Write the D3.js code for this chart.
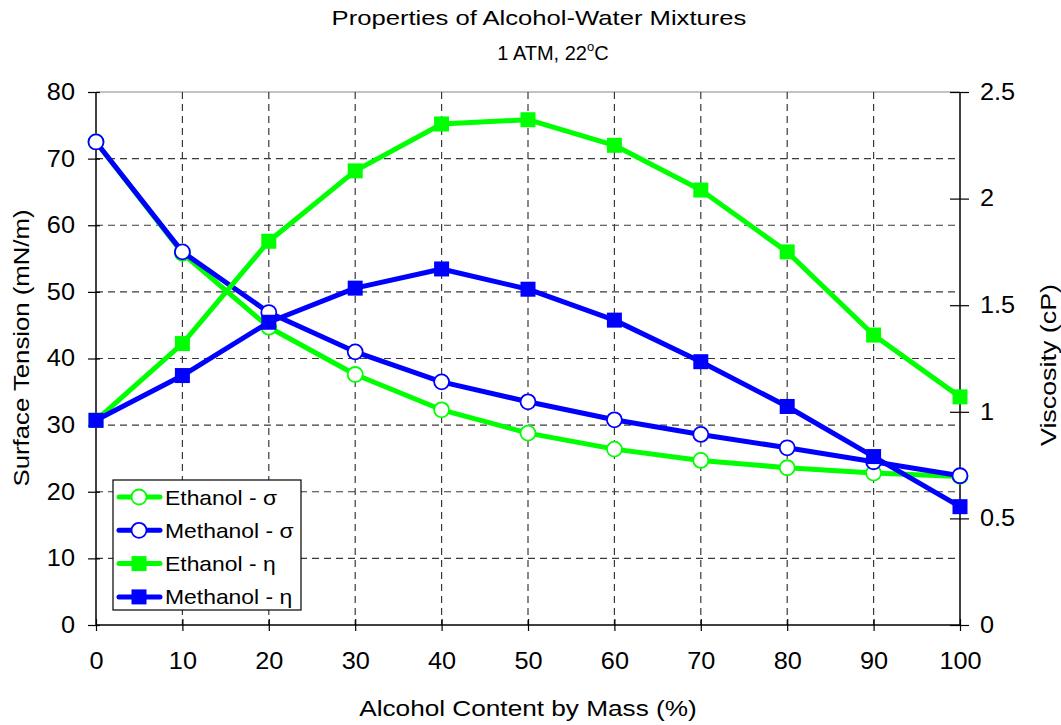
<!DOCTYPE html>
<html>
<head>
<meta charset="utf-8">
<script src="https://cdn.jsdelivr.net/npm/d3@7/dist/d3.min.js"></script>
<style>
  html, body { margin: 0; padding: 0; background: #fff; }
  svg { display: block; font-family: "Liberation Sans", Arial, sans-serif; }
</style>
</head>
<body>
<svg id="chart" width="1061" height="725"></svg>
<script>
// Alcohol content by mass (%)
const alcoholContent = [0, 10, 20, 30, 40, 50, 60, 70, 80, 90, 100];

// Surface tension (mN/m)
const ethanolSigma  = [72.5, 55.8, 44.7, 37.6, 32.3, 28.8, 26.4, 24.7, 23.6, 22.8, 22.3];
const methanolSigma = [72.5, 56.0, 46.9, 41.0, 36.5, 33.5, 30.8, 28.6, 26.6, 24.5, 22.4];

// Viscosity (cP)
const ethanolEta  = [0.96, 1.32, 1.80, 2.13, 2.35, 2.37, 2.25, 2.04, 1.75, 1.36, 1.07];
const methanolEta = [0.96, 1.17, 1.42, 1.58, 1.67, 1.575, 1.43, 1.235, 1.025, 0.79, 0.555];

const xTicks = [0, 10, 20, 30, 40, 50, 60, 70, 80, 90, 100];
const leftTicks = [0, 10, 20, 30, 40, 50, 60, 70, 80];
const rightTicks = [0, 0.5, 1, 1.5, 2, 2.5];

const GREEN = "#00ff00", BLUE = "#0000ff";

const series = [
  { name: "Ethanol - σ",  values: ethanolSigma,  axis: "left",  color: GREEN, marker: "circle" },
  { name: "Methanol - σ", values: methanolSigma, axis: "left",  color: BLUE,  marker: "circle" },
  { name: "Ethanol - η",  values: ethanolEta,    axis: "right", color: GREEN, marker: "square" },
  { name: "Methanol - η", values: methanolEta,   axis: "right", color: BLUE,  marker: "square" }
];

const svg = d3.select("#chart");
const m = { left: 96, right: 960, top: 92, bottom: 625 };

const x = d3.scaleLinear().domain([0, 100]).range([m.left, m.right]);
const yL = d3.scaleLinear().domain([0, 80]).range([m.bottom, m.top]);
const yR = d3.scaleLinear().domain([0, 2.5]).range([m.bottom, m.top]);

// Widen text glyphs along the reading direction
function widen(sel, factor) {
  sel.each(function () {
    const len = this.getComputedTextLength();
    d3.select(this).attr("textLength", len * factor).attr("lengthAdjust", "spacingAndGlyphs");
  });
}

// Plot frame top edge
svg.append("line")
  .attr("x1", m.left).attr("x2", m.right)
  .attr("y1", m.top).attr("y2", m.top)
  .attr("stroke", "#888").attr("stroke-width", 1.2);

// Dashed grid
const grid = svg.append("g").attr("stroke", "#3a3a3a").attr("stroke-width", 1.2)
  .attr("stroke-dasharray", "7,5");
grid.selectAll(".gx").data(xTicks.filter(d => d > 0 && d < 100)).join("line")
  .attr("x1", d => x(d)).attr("x2", d => x(d))
  .attr("y1", m.top).attr("y2", m.bottom);
grid.selectAll(".gy").data(leftTicks.filter(d => d > 0 && d < 80)).join("line")
  .attr("x1", m.left).attr("x2", m.right)
  .attr("y1", d => yL(d)).attr("y2", d => yL(d));

// Axes
const tickFont = 23;
const gx = svg.append("g").attr("transform", `translate(0,${m.bottom})`)
  .call(d3.axisBottom(x).tickValues(xTicks).tickSize(6).tickPadding(22).tickFormat(d3.format("d")));
const gl = svg.append("g").attr("transform", `translate(${m.left},0)`)
  .call(d3.axisLeft(yL).tickValues(leftTicks).tickSize(8).tickPadding(13).tickFormat(d3.format("d")));
const gr = svg.append("g").attr("transform", `translate(${m.right},0)`)
  .call(d3.axisRight(yR).tickValues(rightTicks).tickSize(9).tickPadding(11).tickFormat(d => String(d)));

[gx, gl, gr].forEach(g => {
  g.attr("font-size", tickFont).attr("font-family", "Liberation Sans, Arial, sans-serif");
  g.select(".domain").attr("stroke", "#000").attr("stroke-width", 1.5);
  g.selectAll(".tick line").attr("stroke", "#000").attr("stroke-width", 1.2);
  g.selectAll(".tick text").attr("fill", "#000").call(widen, 1.1);
});
// ticks cross the axis line
gx.selectAll(".tick line").attr("y1", -6).attr("y2", 6);
gl.selectAll(".tick line").attr("x1", 4).attr("x2", -8);
gr.selectAll(".tick line").attr("x1", -10).attr("x2", 9);
gx.select(".domain").attr("d", `M${m.left},0H${m.right}`);
gl.select(".domain").attr("d", `M0,${m.bottom}V${m.top}`);
gr.select(".domain").attr("d", `M0,${m.bottom}V${m.top}`);

// Series lines and markers
const lineFor = s => d3.line()
  .x((d, i) => x(alcoholContent[i]))
  .y(d => (s.axis === "left" ? yL : yR)(d));

series.forEach(s => {
  const g = svg.append("g");
  g.append("path").datum(s.values)
    .attr("d", lineFor(s))
    .attr("fill", "none").attr("stroke", s.color)
    .attr("stroke-width", 5).attr("stroke-linejoin", "round");
  const yS = s.axis === "left" ? yL : yR;
  if (s.marker === "circle") {
    g.selectAll("circle").data(s.values).join("circle")
      .attr("cx", (d, i) => x(alcoholContent[i])).attr("cy", d => yS(d))
      .attr("r", 7.5).attr("fill", "#fff").attr("stroke", s.color).attr("stroke-width", 1.8);
  } else {
    g.selectAll("rect").data(s.values).join("rect")
      .attr("x", (d, i) => x(alcoholContent[i]) - 7.5).attr("y", d => yS(d) - 7.5)
      .attr("width", 15).attr("height", 15).attr("fill", s.color);
  }
});

// Titles
svg.append("text").attr("x", 539).attr("y", 25).attr("text-anchor", "middle")
  .attr("font-size", 21).text("Properties of Alcohol-Water Mixtures").call(widen, 1.22);
const sub = svg.append("text").attr("x", 553).attr("y", 60).attr("text-anchor", "middle")
  .attr("font-size", 20);
sub.append("tspan").text("1 ATM, 22");
sub.append("tspan").attr("font-size", 13).attr("dy", -9).text("o");
sub.append("tspan").attr("dy", 9).text("C");

svg.append("text").attr("x", 528).attr("y", 716).attr("text-anchor", "middle")
  .attr("font-size", 22).text("Alcohol Content by Mass (%)").call(widen, 1.19);
svg.append("text").attr("transform", "translate(29,348) rotate(-90)")
  .attr("text-anchor", "middle").attr("font-size", 22).text("Surface Tension (mN/m)").call(widen, 1.17);
svg.append("text").attr("transform", "translate(1056,365) rotate(-90)")
  .attr("text-anchor", "middle").attr("font-size", 22).text("Viscosity (cP)").call(widen, 1.22);

// Legend
const lg = svg.append("g").attr("transform", "translate(113,480)");
lg.append("rect").attr("width", 188).attr("height", 130)
  .attr("fill", "#fff").attr("stroke", "#000").attr("stroke-width", 1.2);
series.forEach((s, i) => {
  const yy = 17 + i * 33.3;
  lg.append("line").attr("x1", 6).attr("x2", 47).attr("y1", yy).attr("y2", yy)
    .attr("stroke", s.color).attr("stroke-width", 5).attr("stroke-linecap", "round");
  if (s.marker === "circle") {
    lg.append("circle").attr("cx", 26).attr("cy", yy).attr("r", 7.5)
      .attr("fill", "#fff").attr("stroke", s.color).attr("stroke-width", 1.8);
  } else {
    lg.append("rect").attr("x", 18.5).attr("y", yy - 7.5).attr("width", 15).attr("height", 15)
      .attr("fill", s.color);
  }
  lg.append("text").attr("x", 52).attr("y", yy + 7.5).attr("font-size", 21).text(s.name)
    .call(widen, 1.09);
});
</script>
</body>
</html>
